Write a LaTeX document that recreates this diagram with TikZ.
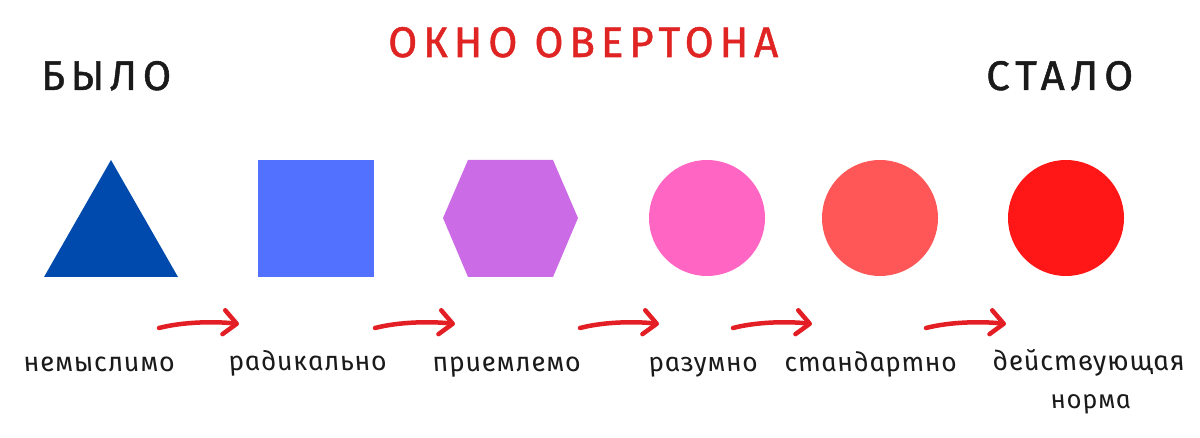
\documentclass[tikz,border=0pt]{standalone}
\usepackage{fontspec}
\usetikzlibrary{arrows.meta,calc}
\setmainfont{Fira Sans}[Script=Cyrillic]
\newfontfamily\titlefont{Fira Sans}[Script=Cyrillic,LetterSpace=14,FakeBold=1.2]
\newfontfamily\labfont{Fira Sans}[Script=Cyrillic,LetterSpace=3,ItalicFeatures={FakeSlant=-0.21}]
\definecolor{tri}{HTML}{004AAD}
\definecolor{sq}{HTML}{5271FF}
\definecolor{hex}{HTML}{CB6CE6}
\definecolor{cA}{HTML}{FF66C4}
\definecolor{cB}{HTML}{FF5757}
\definecolor{cC}{HTML}{FF1616}
\definecolor{ttl}{HTML}{E02424}
\definecolor{arr}{HTML}{E31E24}
\definecolor{ink}{HTML}{1A1A1A}
\tikzset{
  txt/.style={inner sep=0pt, anchor=base west, text=ink},
  lab/.style={txt, font=\labfont\itshape},
  flow/.style={draw=arr, line width=4.5pt, line cap=round,
    -{Straight Barb[length=13pt,width=24pt,line width=4.5pt,round]}}
}
\begin{document}
\begin{tikzpicture}[x=1pt,y=-1pt]
\useasboundingbox[fill=white] (0,0) rectangle (1200,438);
% headings
\node[txt, text=ttl] (title) at (388,57) {\resizebox{390pt}{30pt}{\titlefont ОКНО ОВЕРТОНА}};
\node[txt] (was) at (41,90) {\resizebox{130pt}{29pt}{\titlefont БЫЛО}};
\node[txt] (now) at (986,90) {\resizebox{147pt}{29pt}{\titlefont СТАЛО}};
% shapes
\fill[tri] (111,160) -- (178,277) -- (44,277) -- cycle;
\fill[sq] (258,160) rectangle (374,277);
\fill[hex] (443,218) -- (468,160) -- (553,160) -- (578,218) -- (553,277) -- (468,277) -- cycle;
\fill[cA] (707,218) circle (58);
\fill[cB] (880,218) circle (58);
\fill[cC] (1066,218) circle (58);
% labels
\node[lab] (l1) at (25,371) {\resizebox{151pt}{!}{немыслимо}};
\node[lab] (l2) at (230,371) {\resizebox{158pt}{!}{радикально}};
\node[lab] (l3) at (434,371) {\resizebox{148pt}{!}{приемлемо}};
\node[lab] (l4) at (650,371) {\resizebox{109pt}{!}{разумно}};
\node[lab] (l5) at (786,371) {\resizebox{172pt}{!}{стандартно}};
\node[lab] (l6) at (994,371) {\resizebox{192pt}{!}{действующая}};
\node[lab] (l7) at (1052,409) {\resizebox{80pt}{!}{норма}};
% arrows
\coordinate (a1s) at (159,328); \coordinate (a1e) at (239,324);
\coordinate (a2s) at (375,328); \coordinate (a2e) at (455,324);
\coordinate (a3s) at (580,328); \coordinate (a3e) at (659,324);
\coordinate (a4s) at (733,328); \coordinate (a4e) at (812,324);
\coordinate (a5s) at (926,328); \coordinate (a5e) at (1006,324);
\foreach \s/\e in {a1s/a1e,a2s/a2e,a3s/a3e,a4s/a4e,a5s/a5e}
  \draw[flow] (\s) .. controls ($(\s)!0.3!(\e)+(0,-5)$) and ($(\s)!0.7!(\e)+(0,-4)$) .. (\e);
\end{tikzpicture}
\end{document}
